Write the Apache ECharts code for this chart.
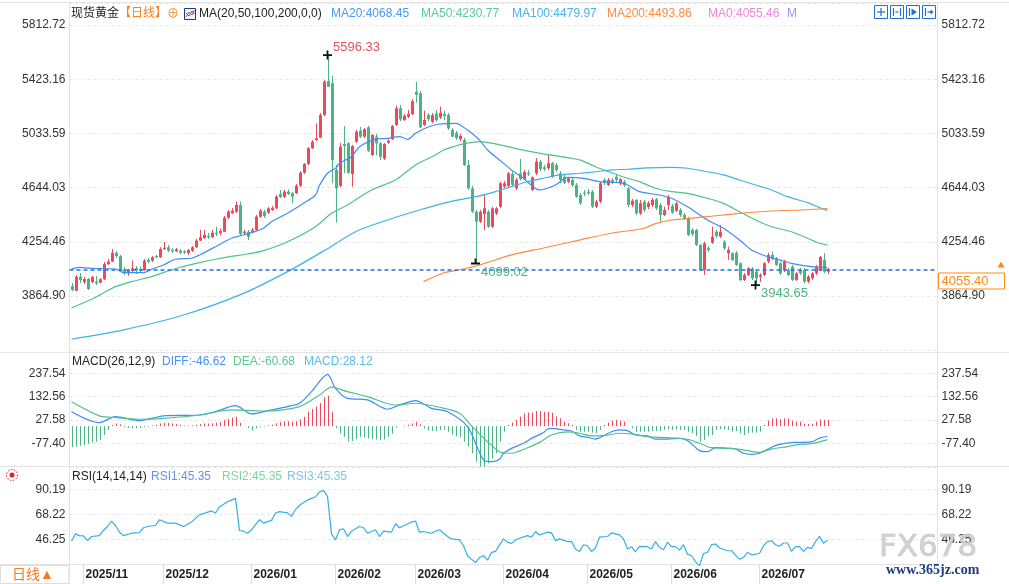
<!DOCTYPE html>
<html>
<head>
<meta charset="utf-8">
<title>现货黄金 日线</title>
<script src="https://cdn.jsdelivr.net/npm/echarts@6/dist/echarts.min.js"></script>
<style>
  html, body { margin: 0; padding: 0; background: #fff; }
  #main { width: 1009px; height: 584px; }
</style>
</head>
<body>
<div id="main"></div>
<script>
// trading calendar
const firstDay = '2025-10-29';
const holidays = ['2025-12-25', '2026-01-01', '2026-04-03'];
const slotCount = 217; // candles + empty room on the right

// tick labels of the three panels
const priceTicks = [3864.90, 4254.46, 4644.03, 5033.59, 5423.16, 5812.72];
const macdTicks = [-77.40, 27.58, 132.56, 237.54];
const rsiTicks = [46.25, 68.22, 90.19];
const panelMax = [5970.85, 331.1, 109.8];

// daily candles [open, close, low, high]
const candles = [
  [3937,3908,3901,3958],[3903,4004,3901,4016],[4004,3980,3958,4030],[3966,3987,3951,4002],[3987,3915,3908,3994],
  [3966,4002,3958,4009],[3968,3956,3944,4009],[3961,3985,3958,3994],[3985,4095,3980,4109],[4095,4112,4088,4131],
  [4112,4176,4109,4203],[4176,4152,4138,4188],[4152,4057,4045,4160],[4057,4028,4016,4073],[4028,4047,4009,4059],
  [4045,4064,4030,4119],[4066,4052,4023,4081],[4057,4047,4030,4073],[4052,4119,4045,4131],[4124,4112,4102,4138],
  [4119,4143,4109,4152],[4152,4143,4138,4160],[4143,4203,4138,4217],[4203,4212,4196,4253],[4215,4191,4181,4232],
  [4196,4186,4174,4210],[4186,4201,4181,4210],[4191,4176,4167,4203],[4186,4176,4167,4196],[4172,4196,4160,4203],
  [4191,4215,4181,4224],[4215,4263,4210,4275],[4263,4287,4260,4339],[4282,4304,4275,4339],[4296,4287,4275,4318],
  [4287,4320,4282,4339],[4320,4311,4296,4363],[4316,4332,4303,4351],[4327,4428,4325,4440],[4428,4471,4418,4483],
  [4459,4478,4454,4497],[4471,4519,4462,4541],[4519,4311,4303,4543],[4316,4327,4303,4339],[4327,4291,4267,4339],
  [4327,4339,4318,4354],[4339,4435,4332,4447],[4435,4478,4426,4490],[4471,4440,4426,4483],[4464,4495,4454,4505],
  [4483,4497,4476,4512],[4495,4579,4490,4591],[4598,4576,4569,4627],[4576,4615,4569,4627],[4615,4598,4591,4632],
  [4603,4579,4531,4612],[4603,4658,4598,4670],[4658,4751,4648,4763],[4751,4814,4742,4821],[4814,4927,4806,4936],
  [4927,4974,4921,4986],[4986,4998,4979,5106],[5003,5166,5001,5180],[5166,5405,5159,5417],[5410,5369,5367,5596.33],
  [5394,4842,4675,5446],[4771,4639,4392,4806],[4656,4938,4648,4965],[4957,4943,4749,5087],[4962,4751,4742,4972],
  [4742,4943,4651,4950],[4974,5046,4965,5058],[5053,5010,5001,5080],[5010,5063,5001,5072],[5077,4909,4900,5087],
  [4878,5022,4871,5029],[5010,4962,4878,5029],[4962,4866,4842,4972],[4852,4957,4842,4965],[4967,4981,4957,4993],
  [4991,5087,4986,5094],[5094,5214,5087,5231],[5214,5135,5123,5238],[5130,5159,5123,5173],[5154,5173,5144,5202],
  [5173,5266,5166,5281],[5333,5310,5254,5405],[5322,5077,5072,5338],[5094,5130,5087,5197],[5166,5135,5123,5180],
  [5118,5166,5108,5180],[5178,5130,5116,5202],[5149,5182,5137,5226],[5173,5159,5130,5195],[5166,5070,5058,5180],
  [5058,5010,5008,5072],[5036,5001,4986,5051],[4993,5015,4979,5029],[4986,4806,4799,5001],[4806,4639,4627,4842],
  [4639,4471,4462,4656],[4471,4399,4099.02,4483],[4399,4471,4390,4483],[4454,4495,4339,4591],[4471,4363,4354,4483],
  [4363,4495,4354,4505],[4459,4495,4447,4505],[4507,4675,4497,4686],[4651,4675,4641,4691],[4656,4747,4648,4756],
  [4742,4663,4656,4756],[4639,4699,4627,4713],[4745,4705,4695,4850],[4705,4756,4699,4770],[4750,4740,4727,4770],
  [4627,4718,4620,4725],[4747,4830,4735,4857],[4830,4776,4763,4842],[4790,4776,4763,4806],[4783,4819,4771,4878],
  [4819,4722,4713,4828],[4806,4771,4756,4821],[4747,4699,4675,4763],[4722,4679,4670,4735],[4686,4711,4677,4720],
  [4699,4663,4648,4713],[4663,4579,4569,4677],[4591,4531,4519,4605],[4607,4598,4584,4627],[4615,4603,4591,4634],
  [4615,4507,4497,4627],[4507,4543,4497,4555],[4543,4675,4533,4684],[4699,4679,4663,4713],[4663,4699,4656,4713],
  [4699,4679,4670,4713],[4722,4699,4684,4742],[4675,4704,4663,4713],[4686,4663,4648,4699],[4639,4519,4505,4648],
  [4519,4550,4505,4562],[4555,4459,4447,4562],[4459,4531,4447,4555],[4543,4483,4469,4555],[4505,4533,4490,4548],
  [4519,4555,4505,4569],[4560,4495,4483,4569],[4519,4447,4392,4533],[4447,4483,4440,4507],[4519,4579,4483,4591],
  [4512,4464,4454,4526],[4478,4531,4469,4541],[4483,4447,4433,4497],[4447,4423,4411,4462],[4423,4303,4296,4433],
  [4339,4311,4296,4354],[4339,4232,4224,4347],[4232,4052,4045,4239],[4052,4244,4016,4255],[4208,4196,4181,4224],
  [4248,4291,4239,4363],[4327,4296,4282,4339],[4291,4327,4282,4375],[4255,4208,4196,4267],[4172,4196,4124,4219],
  [4172,4124,4117,4181],[4176,4088,4081,4188],[4100,3980,3973,4109],[3980,4016,3973,4030],[4016,4064,4009,4073],
  [4064,3992,3980,4073],[4040,3992,3943.65,4052],[4004,4016,3966,4030],[4016,4100,4009,4109],[4112,4160,4102,4174],
  [4160,4136,4124,4183],[4136,4088,4081,4145],[4100,4028,4016,4109],[4052,4112,4037,4124],[4052,4016,4009,4066],
  [4076,3980,3973,4088],[3980,4028,3973,4037],[4052,4028,4016,4066],[4052,3968,3958,4066],[3968,4004,3958,4016],
  [3992,4028,3980,4037],[4028,4076,4016,4088],[4052,4147,4045,4152],[4124,4040,4030,4174],[4040,4055.40,4023,4066]
];

// moving averages, read at [candle index, value]
const ma20 = [[0,4059],[2,4071],[5,4064],[11,4059],[13,4033],[18,4033],[20,4057],[23,4088],[26,4129],[30,4136],
  [32,4160],[36,4219],[40,4280],[42,4296],[45,4320],[48,4352],[50,4399],[54,4459],[58,4531],[61,4591],[62,4660],
  [64,4747],[66,4783],[67,4819],[70,4866],[72,4938],[76,4991],[79,4998],[82,5010],[84,4991],[86,5034],[89,5078],
  [92,5101],[96,5106],[99,5058],[102,4986],[104,4914],[107,4843],[110,4771],[113,4711],[117,4627],[121,4663],
  [124,4718],[128,4711],[132,4687],[137,4679],[139,4663],[142,4615],[147,4591],[150,4567],[154,4507],[159,4411],
  [163,4352],[167,4268],[170,4196],[174,4148],[177,4124],[180,4100],[184,4080],[187,4072],[189,4068.45]];
const ma50 = [[0,3779],[5,3841],[11,3932],[15,3968],[20,4004],[23,4033],[27,4070],[32,4105],[36,4129],[40,4150],
  [44,4167],[48,4191],[54,4255],[61,4363],[65,4459],[69,4519],[75,4627],[81,4699],[86,4807],[91,4878],[93,4914],
  [96,4943],[98,4958],[102,4974],[106,4958],[112,4919],[118,4886],[127,4843],[131,4794],[135,4751],[139,4711],
  [142,4687],[146,4639],[150,4615],[154,4603],[159,4567],[163,4531],[167,4471],[171,4411],[175,4363],[180,4327],
  [184,4280],[187,4244],[189,4230.77]];
const ma100 = [[0,3554],[13,3621],[28,3728],[43,3884],[54,4040],[64,4205],[71,4327],[79,4411],[87,4483],[95,4545],
  [102,4584],[106,4615],[110,4651],[114,4686],[118,4711],[122,4735],[127,4747],[131,4758],[135,4771],[139,4776],
  [144,4786],[150,4790],[154,4783],[159,4758],[163,4735],[167,4699],[171,4663],[175,4627],[179,4579],[184,4536],
  [187,4500],[189,4479.97]];
const ma200 = [[88,3968],[93,4030],[96,4047],[102,4088],[110,4160],[118,4210],[127,4267],[135,4316],[143,4350],
  [146,4385],[150,4411],[159,4435],[167,4459],[175,4476],[184,4485],[189,4493.86]];
const ma0Last = 4055.46;

// MACD(26,12,9)
const diff = [[0,65],[7,16],[11,43],[17,25],[23,46],[32,50],[36,65],[41,92],[45,55],[50,73],[54,88],[57,103],
  [60,155],[64,233],[66,170],[69,125],[74,118],[79,76],[82,95],[86,115],[90,80],[94,65],[99,-2],[103,-152],
  [105,-160],[107,-149],[108,-122],[110,-100],[113,-77],[115,-55],[118,-29],[119,-13],[120,-10],[123,-17],
  [125,-22],[127,-44],[129,-50],[131,-58],[133,-44],[135,-25],[137,-17],[139,-20],[141,-40],[144,-44],[146,-58],
  [149,-58],[152,-55],[154,-65],[157,-110],[159,-115],[161,-97],[164,-100],[166,-103],[168,-122],[170,-127],
  [172,-122],[175,-95],[177,-82],[180,-74],[182,-73],[185,-71],[187,-54],[189,-46.62]];
const dea = [[0,110],[7,46],[10,40],[17,31],[23,35],[32,50],[40,73],[48,68],[57,88],[62,140],[65,175],[69,155],
  [74,133],[81,95],[86,103],[92,85],[97,58],[100,1],[102,-35],[104,-70],[107,-115],[110,-122],[114,-97],
  [117,-73],[120,-40],[124,-26],[127,-32],[130,-44],[134,-40],[137,-32],[140,-35],[144,-47],[149,-52],
  [154,-59],[157,-77],[160,-97],[165,-100],[169,-110],[172,-118],[175,-103],[179,-92],[182,-82],[185,-79],
  [189,-60.68]];
const macdHist = [
  -95,-92,-89,-85,-80,-74,-70,-62,-40,-17,
  5,12,8,-5,-8,-10,-10,-8,-5,-3,
  3,6,12,15,15,12,10,6,3,2,
  3,6,9,12,12,12,15,18,27,33,
  38,42,15,0,-8,-20,-10,-3,-2,3,
  6,12,18,22,22,20,22,30,42,65,
  77,88,103,130,136,65,-10,-33,-48,-70,
  -67,-58,-48,-51,-55,-58,-60,-62,-60,-48,
  -33,-6,0,3,6,12,20,8,-10,-20,
  -22,-22,-18,-15,-25,-38,-45,-50,-70,-92,
  -122,-160,-182,-182,-167,-145,-122,-70,-25,5,
  16,28,43,58,61,61,68,68,65,65,
  60,43,35,20,13,5,-17,-25,-25,-25,
  -29,-32,-17,5,16,25,28,25,20,0,
  -10,-25,-25,-25,-25,-22,-22,-22,-17,-14,
  -17,-14,-17,-17,-25,-32,-44,-70,-62,-44,
  -40,-17,-14,-14,-17,-25,-22,-32,-40,-32,
  -29,-29,-25,5,25,35,35,30,35,35,
  25,20,20,10,10,10,20,30,28,28.12
];

// RSI(14,14,14) - the three lines coincide
const rsi = [[0,44.5],[1,51.0],[2,49.5],[3,49.2],[4,45.1],[5,48.7],[7,49.5],[8,54.0],[9,57.5],[10,62.3],[11,58.4],
  [12,52.5],[13,49.5],[15,51.6],[17,52.2],[18,56.4],[19,57.5],[21,58.4],[22,63.5],[24,60.5],[26,60.5],[28,57.5],
  [30,61.4],[32,67.9],[33,68.8],[35,71.2],[36,69.4],[37,74.7],[39,79.2],[40,80.7],[41,82.2],[42,54.0],[43,53.4],
  [44,51.6],[45,54.6],[47,63.5],[48,60.5],[50,62.9],[51,69.4],[52,70.6],[54,69.4],[55,66.4],[56,72.4],[57,76.2],
  [59,80.7],[61,83.6],[62,88.0],[63,89.0],[64,84.0],[65,51.0],[66,45.7],[67,54.6],[68,55.5],[69,48.7],[70,53.4],
  [72,57.5],[73,56.4],[74,51.6],[76,54.6],[77,48.7],[78,53.4],[80,52.5],[81,59.9],[82,56.4],[85,61.4],[86,62.3],
  [87,52.5],[88,53.1],[90,51.6],[91,53.4],[92,54.6],[94,48.7],[95,46.6],[97,45.7],[98,40.6],[99,31.8],[100,28.8],
  [101,25.8],[102,30.3],[103,31.8],[104,27.9],[105,34.7],[106,35.6],[108,46.6],[109,43.6],[110,42.7],[111,45.7],
  [112,47.2],[114,49.5],[115,48.1],[116,53.1],[117,50.1],[119,52.5],[120,51.9],[121,45.1],[122,46.6],[124,44.2],
  [125,44.5],[126,37.7],[127,35.6],[128,41.5],[129,40.6],[130,35.6],[131,38.6],[132,48.1],[134,48.7],[135,51.9],
  [137,50.1],[138,46.6],[139,37.7],[140,39.8],[141,35.3],[142,40.1],[144,39.8],[145,37.7],[146,44.2],[147,39.2],
  [148,37.1],[149,43.6],[150,39.8],[151,39.8],[152,36.8],[153,41.5],[154,33.2],[155,31.8],[156,26.7],[157,22.9],
  [158,33.8],[159,34.7],[160,41.5],[161,42.1],[162,38.6],[164,36.2],[165,36.2],[166,32.3],[167,28.8],[168,30.3],
  [169,34.7],[170,32.6],[172,33.8],[173,40.6],[174,44.2],[175,45.1],[176,41.5],[177,40.1],[178,43.0],[179,43.0],
  [180,35.6],[181,39.8],[182,39.8],[183,35.6],[184,39.2],[185,38.3],[186,44.2],[187,48.9],[188,42.7],[189,45.35]];

// candles flagged with a price note: [index, 'high' | 'low']
const notes = [[64, 'high'], [101, 'low'], [171, 'low']];

const FONT = 'Arial, "Liberation Sans", "Noto Sans CJK SC", sans-serif';
const UP = '#eb4a5d', DOWN = '#4cb383';
const C_MA20 = '#3d8ef5', C_MA50 = '#4fc28c', C_MA100 = '#3cb2e6', C_MA200 = '#ff8a3c';

function tradingDays(from, count) {
  const out = [];
  const d = new Date(from + 'T00:00:00Z');
  while (out.length < count) {
    const s = d.toISOString().slice(0, 10);
    const wd = d.getUTCDay();
    if (wd !== 0 && wd !== 6 && holidays.indexOf(s) < 0) out.push(s);
    d.setUTCDate(d.getUTCDate() + 1);
  }
  return out;
}
const dates = tradingDays(firstDay, slotCount);
const isMonthStart = (i) => i > 0 && i < candles.length && dates[i].slice(0, 7) !== dates[i - 1].slice(0, 7);
const last = (arr) => arr[arr.length - 1][1];

const grids = [
  { left: 69.5, right: 71.5, top: 3, height: 347.2 },
  { left: 69.5, right: 71.5, top: 352.5, height: 114.2 },
  { left: 69.5, right: 71.5, top: 467, height: 97.3 }
].map(g => Object.assign({ outerBoundsMode: 'none', containLabel: false }, g));

const xAxes = [0, 1, 2].map(g => ({
  type: 'category', gridIndex: g, data: dates, boundaryGap: true, show: g === 2,
  axisLine: { show: true, lineStyle: { color: '#e2e2e2' } },
  axisTick: { show: true, interval: isMonthStart, alignWithLabel: true, length: 20, lineStyle: { color: '#dcdcdc' } },
  axisLabel: {
    interval: isMonthStart, formatter: v => v.slice(0, 7).replace('-', '/'),
    color: '#222', fontWeight: 'bold', fontSize: 12, fontFamily: FONT, align: 'left', margin: 4, padding: [0, 0, 0, 2]
  },
  splitLine: { show: false }
}));

function valueAxis(grid, pos, ticks, max) {
  const step = (ticks[ticks.length - 1] - ticks[0]) / (ticks.length - 1);
  return {
    type: 'value', gridIndex: grid, position: pos, min: ticks[0] - step, max: max, interval: step,
    axisLine: { show: false }, axisTick: { show: false },
    axisLabel: { color: '#333', fontSize: 12, fontFamily: FONT, margin: 4, showMinLabel: false, showMaxLabel: false,
      formatter: v => v.toFixed(2) },
    splitLine: { show: pos === 'left', lineStyle: { color: '#e6e6e6', type: [3, 3] } }
  };
}
const yAxes = [
  valueAxis(0, 'left', priceTicks, panelMax[0]), valueAxis(0, 'right', priceTicks, panelMax[0]),
  valueAxis(1, 'left', macdTicks, panelMax[1]), valueAxis(1, 'right', macdTicks, panelMax[1]),
  valueAxis(2, 'left', rsiTicks, panelMax[2]), valueAxis(2, 'right', rsiTicks, panelMax[2])
];

const PLUS = 'path://M4,0h2v4h4v2h-4v4h-2v-4h-4v-2h4z';
const FOOT = 'path://M4,0h2v4h4v2h-10v-2h4z';
const lastPrice = candles[candles.length - 1][1];

const markPoints = notes.map(([i, kind]) => {
  const v = kind === 'high' ? candles[i][3] : candles[i][2];
  return {
    coord: [i, v],
    symbol: i === 101 ? FOOT : PLUS,
    symbolSize: i === 101 ? [9, 6] : 9,
    symbolOffset: i === 101 ? [0, -2] : [0, 0],
    itemStyle: { color: '#111' },
    label: { show: true, formatter: v.toFixed(2), position: 'right', distance: 1,
      offset: kind === 'high' ? [0, -8] : [0, i === 101 ? 11 : 8], color: kind === 'high' ? '#e8505b' : '#4cb383',
      fontSize: 13, fontFamily: FONT }
  };
});

// candles: wick + 3px body, placed through the axes
const candleSeries = {
  name: '现货黄金', type: 'custom', xAxisIndex: 0, yAxisIndex: 0,
  data: candles.map((c, i) => [i].concat(c)),
  encode: { x: 0, y: [1, 2, 3, 4] },
  renderItem: (params, api) => {
    const i = api.value(0), o = api.value(1), c = api.value(2), l = api.value(3), h = api.value(4);
    const pO = api.coord([i, o]), pC = api.coord([i, c]);
    const pL = api.coord([i, l]), pH = api.coord([i, h]);
    const x = Math.round(pO[0]) + 0.5;
    const color = c >= o ? UP : DOWN;
    const top = Math.min(pO[1], pC[1]);
    const hgt = Math.max(1, Math.abs(pO[1] - pC[1]));
    return {
      type: 'group', children: [
        { type: 'line', shape: { x1: x, y1: pH[1], x2: x, y2: pL[1] }, style: { stroke: color, lineWidth: 1 } },
        { type: 'rect', shape: { x: x - 1.5, y: top, width: 3, height: hgt }, style: { fill: color } }
      ]
    };
  },
  markLine: {
    silent: true, symbol: ['none', 'none'], data: [{ yAxis: lastPrice }],
    lineStyle: { color: '#1a73e8', type: [4, 3], width: 1.5 }, label: { show: false }
  },
  markPoint: { silent: true, data: markPoints }
};

const maLine = (name, data, color) => ({
  name, type: 'line', xAxisIndex: 0, yAxisIndex: 0, data, showSymbol: false, smooth: 0.3,
  lineStyle: { color, width: 1.2 }, itemStyle: { color }, z: 3
});

// histogram drawn as thin sticks from zero, coloured by sign
const histSeries = {
  name: 'MACD', type: 'custom', xAxisIndex: 1, yAxisIndex: 2, data: macdHist.map((v, i) => [i, v]),
  renderItem: (params, api) => {
    const v = api.value(1);
    const top = api.coord([api.value(0), v]);
    const base = api.coord([api.value(0), 0]);
    const x = Math.round(top[0]) + 0.5;
    return {
      type: 'line', shape: { x1: x, y1: base[1], x2: x, y2: top[1] },
      style: { stroke: v >= 0 ? UP : DOWN, lineWidth: 1 }
    };
  }
};

const option = {
  animation: false,
  backgroundColor: '#fff',
  grid: grids,
  xAxis: xAxes,
  yAxis: yAxes,
  series: [
    candleSeries,
    maLine('MA20', ma20, C_MA20),
    maLine('MA50', ma50, C_MA50),
    maLine('MA100', ma100, C_MA100),
    maLine('MA200', ma200, C_MA200),
    histSeries,
    { name: 'DIFF', type: 'line', xAxisIndex: 1, yAxisIndex: 2, data: diff, showSymbol: false, smooth: 0.3,
      lineStyle: { color: C_MA20, width: 1.2 }, z: 3 },
    { name: 'DEA', type: 'line', xAxisIndex: 1, yAxisIndex: 2, data: dea, showSymbol: false, smooth: 0.3,
      lineStyle: { color: C_MA50, width: 1.2 }, z: 3 },
    { name: 'RSI', type: 'line', xAxisIndex: 2, yAxisIndex: 4, data: rsi, showSymbol: false, clip: false,
      lineStyle: { color: '#35b0e6', width: 1.2 } }
  ]
};

const chart = echarts.init(document.getElementById('main'));
chart.setOption(option);

// header texts, frames and the price tag
const G = [];
const txt = (x, y, text, fill, size, extra) => G.push({
  type: 'text', x, y, silent: true, z: 50,
  style: Object.assign({ text, fill, fontSize: size || 12, fontFamily: FONT, verticalAlign: 'middle' }, extra || {})
});
const line = (x1, y1, x2, y2, color, w) => G.push({
  type: 'line', silent: true, z: 1, shape: { x1, y1, x2, y2 }, style: { stroke: color || '#e3e3e3', lineWidth: w || 1 }
});
const rect = (x, y, w, h, stroke, fill, z) => G.push({
  type: 'rect', silent: true, z: z || 40, shape: { x, y, width: w, height: h }, style: { stroke, fill: fill || '#fff', lineWidth: 1 }
});
const poly = (points, style, z) => G.push({ type: 'polyline', silent: true, z: z || 41, shape: { points }, style });

line(0, 2.5, 1009, 2.5, '#e4e4e4');
line(69.5, 3, 69.5, 584, '#e2e2e2');
line(937.5, 3, 937.5, 565, '#e2e2e2');
line(0, 352.5, 1009, 352.5, '#e4e4e4');
line(0, 466.5, 1009, 466.5, '#e4e4e4');
line(0, 564.5, 69, 564.5, '#e2e2e2');

txt(71, 14, '现货黄金', '#222');
txt(119, 14, '【日线】', '#f5841f');
txt(167, 15, '⊕', '#f5841f', 12);
rect(184.5, 8.5, 11, 11, '#1b3a8c', '#f2f6ff');
poly([[186, 17], [189, 12], [192, 15], [194.5, 10]], { stroke: '#e0393e', lineWidth: 1, fill: null });
poly([[186, 13], [189, 16], [192, 11], [194.5, 14]], { stroke: '#2a62d6', lineWidth: 1, fill: null });
txt(199, 14, 'MA(20,50,100,200,0,0)', '#222');
txt(331, 14, 'MA20:' + last(ma20).toFixed(2), '#4a98f5');
txt(421, 14, 'MA50:' + last(ma50).toFixed(2), '#58cc96');
txt(512, 14, 'MA100:' + last(ma100).toFixed(2), '#45b5e6');
txt(607, 14, 'MA200:' + last(ma200).toFixed(2), '#ff8b40');
txt(708, 14, 'MA0:' + ma0Last.toFixed(2), '#ee86dc');
txt(787, 14, 'M', '#a491f2');

// toolbar buttons
[874.5, 890.5, 906.5, 922.5].forEach((x, k) => {
  rect(x, 5.5, 13, 13, '#1f6fd1', '#fff');
  const s = { stroke: '#1f6fd1', lineWidth: 1.2, fill: null };
  if (k === 0) {
    poly([[x + 6.5, 8], [x + 6.5, 16]], s); poly([[x + 2.5, 12], [x + 10.5, 12]], s);
  } else if (k === 1) {
    poly([[x + 3, 8], [x + 3, 16]], s); poly([[x + 10, 8], [x + 10, 16]], s); poly([[x + 5, 12], [x + 8, 12]], s);
  } else if (k === 2) {
    poly([[x + 3, 8], [x + 3, 16]], s);
    G.push({ type: 'polygon', silent: true, z: 41, shape: { points: [[x + 5, 8.5], [x + 10.5, 12], [x + 5, 15.5]] }, style: { fill: '#1f6fd1' } });
  } else {
    poly([[x + 3, 8], [x + 3, 16]], s); poly([[x + 5, 12], [x + 10.5, 12]], s);
    G.push({ type: 'polygon', silent: true, z: 41, shape: { points: [[x + 8, 9.5], [x + 11, 12], [x + 8, 14.5]] }, style: { fill: '#1f6fd1' } });
  }
});

txt(72, 362, 'MACD(26,12,9)', '#222');
txt(162, 362, 'DIFF:' + last(diff).toFixed(2), '#4a8ef5');
txt(233, 362, 'DEA:' + last(dea).toFixed(2), '#5cc98f');
txt(304, 362, 'MACD:' + macdHist[macdHist.length - 1].toFixed(2), '#57bde9');

txt(72, 477, 'RSI(14,14,14)', '#222');
txt(151, 477, 'RSI1:' + last(rsi).toFixed(2), '#6b8ff0');
txt(222, 477, 'RSI2:' + last(rsi).toFixed(2), '#7fd6a2');
txt(287, 477, 'RSI3:' + last(rsi).toFixed(2), '#7dc5ec');

G.push({ type: 'circle', silent: true, z: 41, shape: { cx: 12, cy: 475, r: 2.5 }, style: { fill: '#d8262b' } });
G.push({ type: 'circle', silent: true, z: 41, shape: { cx: 12, cy: 475, r: 5.5 }, style: { fill: null, stroke: '#d8262b', lineWidth: 1, lineDash: [1.5, 1.5] } });

rect(0.5, 565.5, 68.5, 18, '#dddddd', '#fff', 30);
txt(12, 575, '日线▲', '#f47b20', 14);

// current price tag on the right axis
const py = chart.convertToPixel({ yAxisIndex: 0 }, lastPrice);
rect(938.5, py + 3.5, 66, 16, '#ff8a1a', '#fff', 45);
txt(941.5, py + 11.5, lastPrice.toFixed(2), '#ff8a1a', 13);
G.push({ type: 'polygon', silent: true, z: 45, shape: { points: [[1001, py - 8], [997.5, py - 2], [1004.5, py - 2]] }, style: { fill: '#ff8a1a' } });

// watermark
txt(879, 548, 'FX678', 'rgba(205,205,205,0.9)', 31, { fontFamily: '"DejaVu Sans", sans-serif', stroke: '#b9b9b9', lineWidth: 0.6 });
txt(886, 570, 'www.365jz.com', '#1d3f7e', 14, { fontFamily: '"Liberation Serif", serif', fontWeight: 'bold' });

chart.setOption({ graphic: { elements: G } });
</script>
</body>
</html>
